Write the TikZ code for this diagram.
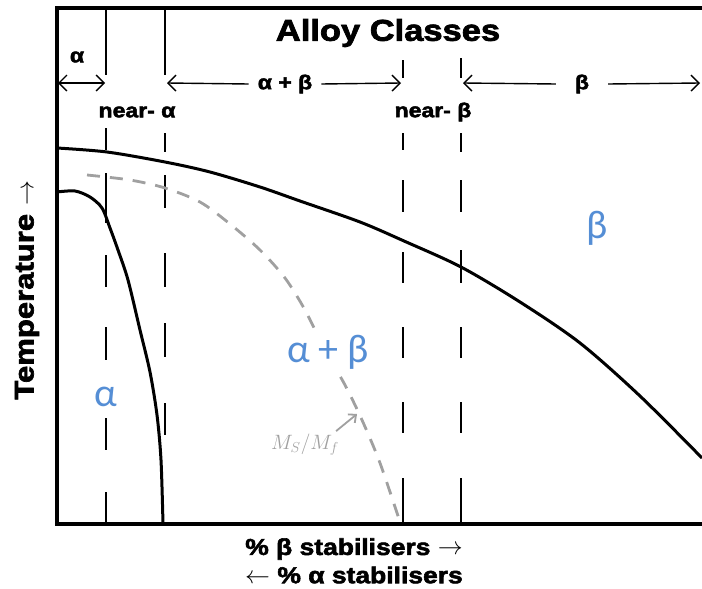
\documentclass[tikz,border=0pt]{standalone}
\usepackage{fontspec}
\usetikzlibrary{arrows.meta}
\newfontfamily\lblfont[FakeStretch=1.15,FakeBold=2.5]{Liberation Sans}
\newfontfamily\calfont{Carlito}
\definecolor{phaseblue}{RGB}{85,142,213}
\definecolor{msgray}{RGB}{160,160,160}
\tikzset{
  mybarb/.tip={Straight Barb[length=8pt,width=16pt,line width=1.4pt]},
  frame/.style={line width=3.2pt, line cap=rect},
  curve/.style={line width=3pt, line join=round},
  vline/.style={line width=2.8pt},
  rangearrow/.style={line width=1.4pt, -mybarb},
  lbl/.style={font=\lblfont\bfseries\fontsize{20}{22}\selectfont, inner sep=1pt},
  phase/.style={font=\calfont\fontsize{40}{42}\selectfont, text=phaseblue, inner sep=1pt},
}
\begin{document}
\begin{tikzpicture}[x=1pt,y=-1pt]
\useasboundingbox (0,0) rectangle (702,589);
% frame
\draw[frame] (702,8) -- (57,8) -- (57,524) -- (702,524);
% solid tops
\draw[vline] (106,8) -- (106,75);
\draw[vline] (165,8) -- (165,75);
% dashed verticals (explicit segments)
\foreach \a/\b in {128/150,173/223,255/287,327/360,418/450,492/524}
  \draw[vline] (106,\a) -- (106,\b);
\foreach \a/\b in {133/152,175/208,253/287,323/357,403/435}
  \draw[vline] (165,\a) -- (165,\b);
\foreach \a/\b in {60/78,133/150,180/212,252/283,327/358,402/433,478/524}
  \draw[vline] (403,\a) -- (403,\b);
\foreach \a/\b in {58/78,133/152,180/212,250/283,327/358,402/433,478/524}
  \draw[vline] (461,\a) -- (461,\b);
% title
\node[lbl, font=\lblfont\bfseries\fontsize{30}{32}\selectfont] (title) at (388,33) {Alloy Classes};
% range labels and arrows
\node[lbl] (la) at (77,57) {α};
\coordinate (a0) at (58,83);
\coordinate (a1) at (105,83);
\draw[line width=1.4pt, mybarb-mybarb] (a0) -- (a1);
\node[lbl] (lab) at (285,84) {α + β};
\coordinate (ab0) at (167,83);
\coordinate (ab1) at (401,83);
\draw[rangearrow] (lab.west) ++(-8,0) -- (ab0);
\draw[rangearrow] (lab.east) ++(8,0) -- (ab1);
\node[lbl] (lb) at (582,84) {β};
\coordinate (b0) at (463,83);
\coordinate (b1) at (700,83);
\draw[rangearrow] (lb.west) ++(-18,0) -- (b0);
\draw[rangearrow] (lb.east) ++(18,0) -- (b1);
\node[lbl] (nal) at (137,112) {near- α};
\node[lbl] (nbe) at (433,112) {near- β};
% beta transus
\draw[curve] plot[smooth, tension=0.5] coordinates {(57,148) (107,152) (165,162) (210,172) (260,187) (300,201) (360,222) (404,241) (461,267) (520,302) (580,343) (640,396) (702,458)};
% alpha boundary
\draw[curve] plot[smooth, tension=0.5] coordinates {(57,192) (75,191) (90,197) (102,208) (110,228) (118,250) (128,280) (140,330) (150,372) (157,415) (161,460) (163,524)};
% martensite start/finish
\draw[msgray, line width=2.8pt, dash pattern=on 13pt off 10pt] plot[smooth, tension=0.5] coordinates {(87,175) (130,180) (165,188) (200,202) (230,224) (260,250) (285,278) (305,310) (325,350) (345,385) (362,420) (380,463) (400,522)};
% phase labels
\node[phase] (pb) at (597,228) {β};
\node[phase, fill=white, inner sep=5pt] (pab) at (328,352) {α + β};
\node[phase] (pa) at (106,397) {α};
% Ms/Mf
\node[text=msgray, font=\fontsize{22}{24}\selectfont, inner sep=1pt] (ms) at (305,445) {$M_S/M_f$};
\coordinate (mstip) at (357,414);
\draw[msgray, line width=1.8pt, -{Straight Barb[length=6pt,width=11pt,line width=1.8pt]}] (ms.north east) ++(-4,-2) -- (mstip);
% axis labels
\node[lbl, font=\lblfont\bfseries\fontsize{23}{24}\selectfont] (xb) at (354,549) {\% β stabilisers $\rightarrow$};
\node[lbl, font=\lblfont\bfseries\fontsize{23}{24}\selectfont] (xa) at (354,575) {$\leftarrow$ \% α stabilisers};
\node[lbl, font=\lblfont\bfseries\fontsize{27}{28}\selectfont, rotate=90] (yt) at (27,290) {Temperature $\rightarrow$};
\end{tikzpicture}
\end{document}
